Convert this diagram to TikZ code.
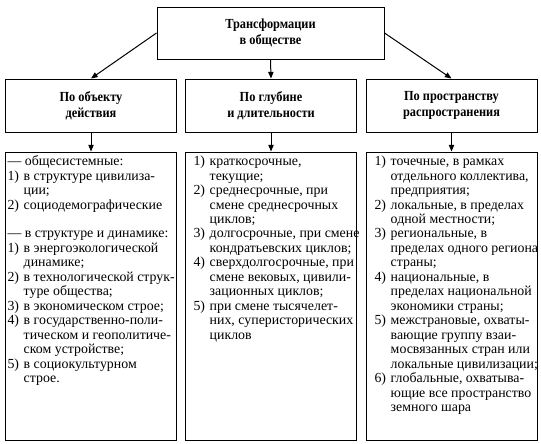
\documentclass[tikz,border=0pt]{standalone}
\usepackage{fontspec}
\setmainfont{Liberation Serif}
\newfontfamily\headfont[FakeStretch=0.89]{Liberation Serif}
\usetikzlibrary{arrows.meta}

\tikzset{every picture/.style={line width=0.75pt}}
\tikzset{
  headbox/.style={draw, align=center, inner sep=0pt, minimum width=128.25pt, minimum height=39.75pt, font=\headfont\bfseries\fontsize{10.4}{12.3}\selectfont},
  listbox/.style={draw, inner sep=0pt, minimum width=128.25pt, minimum height=216pt},
  listtext/.style={anchor=north west, inner sep=0pt, font=\fontsize{10.4}{10.85}\selectfont},
  arr/.style={-{Triangle[length=5pt,width=4pt]}}
}
\newcommand{\dashline}[1]{\multicolumn{2}{@{}l@{}}{#1}}

\begin{document}
\begin{tikzpicture}[x=0.75pt,y=0.75pt,yscale=-1,xscale=1]
\path[use as bounding box] (0,0) rectangle (541,443);

%Top box
\node [headbox, minimum width=170.25pt, minimum height=39pt] (transf) at (270.5,33) {Трансформации\\в обществе};

%Criteria boxes
\node [headbox] (object) at (91,105.5) {По объекту\\действия};
\node [headbox] (depth) at (271,105.5) {По глубине\\и длительности};
\node [headbox] (space) at (451.5,105.5) {По пространству\\распространения};

%List boxes
\node [listbox] (objlist) at (91,296) {};
\node [listbox] (depthlist) at (271,296) {};
\node [listbox] (spacelist) at (451.5,296) {};

%Arrows
\draw [arr] (transf.west) -- (object.north);
\draw [arr] (transf.south) -- (depth.north);
\draw [arr] (transf.east) -- (space.north);
\draw [arr] (object.south) -- (objlist.north);
\draw [arr] (depth.south) -- (depthlist.north);
\draw [arr] (space.south) -- (spacelist.north);

%Text Node
\node [listtext] (objtext) at (7,155) {\begin{tabular}{@{}l@{\hspace{3.5pt}}l@{}}
\dashline{— общесистемные:}\\
1) & в структуре цивилиза-\\
   & ции;\\
2) & социодемографические\\
   & \\
\dashline{— в структуре и динамике:}\\
1) & в энергоэкологической\\
   & динамике;\\
2) & в технологической струк-\\
   & туре общества;\\
3) & в экономическом строе;\\
4) & в государственно-поли-\\
   & тическом и геополитиче-\\
   & ском устройстве;\\
5) & в социокультурном\\
   & строе.
\end{tabular}};

%Text Node
\node [listtext] (depthtext) at (193,155) {\begin{tabular}{@{}l@{\hspace{3.5pt}}l@{}}
1) & краткосрочные,\\
   & текущие;\\
2) & среднесрочные, при\\
   & смене среднесрочных\\
   & циклов;\\
3) & долгосрочные, при смене\\
   & кондратьевских циклов;\\
4) & сверхдолгосрочные, при\\
   & смене вековых, цивили-\\
   & зационных циклов;\\
5) & при смене тысячелет-\\
   & них, суперисторических\\
   & циклов
\end{tabular}};

%Text Node
\node [listtext] (spacetext) at (374,155) {\begin{tabular}{@{}l@{\hspace{3.5pt}}l@{}}
1) & точечные, в рамках\\
   & отдельного коллектива,\\
   & предприятия;\\
2) & локальные, в пределах\\
   & одной местности;\\
3) & региональные, в\\
   & пределах одного региона\\
   & страны;\\
4) & национальные, в\\
   & пределах национальной\\
   & экономики страны;\\
5) & межстрановые, охваты-\\
   & вающие группу взаи-\\
   & мосвязанных стран или\\
   & локальные цивилизации;\\
6) & глобальные, охватыва-\\
   & ющие все пространство\\
   & земного шара
\end{tabular}};
\end{tikzpicture}
\end{document}
